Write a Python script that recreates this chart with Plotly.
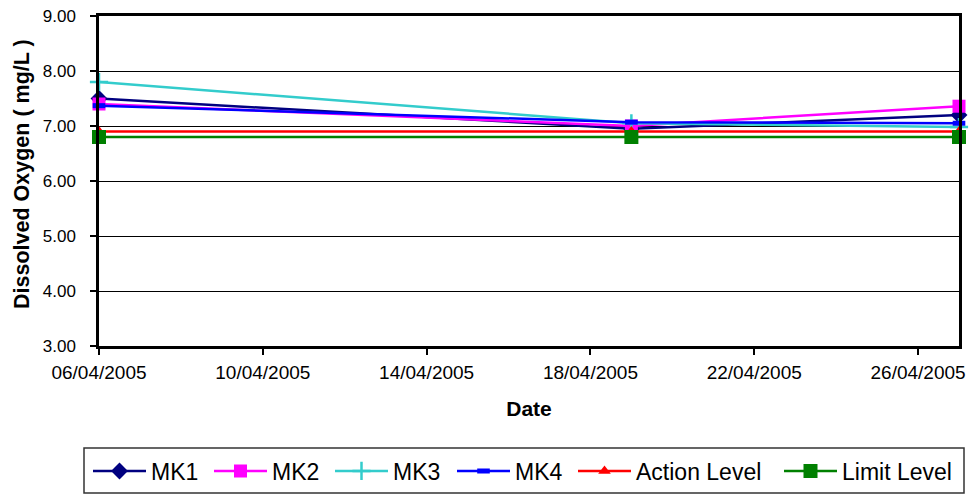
import plotly.graph_objects as go

dates = ["2005-04-06", "2005-04-19", "2005-04-27"]
mk1 = [7.50, 6.95, 7.20]
mk2 = [7.40, 7.00, 7.36]
mk3 = [7.80, 7.05, 6.98]
mk4 = [7.37, 7.07, 7.05]
action_level = [6.90, 6.90, 6.90]
limit_level = [6.80, 6.80, 6.80]

series = [
    ("MK1", mk1, "#000080", dict(symbol="diamond", size=13)),
    ("MK2", mk2, "#FF00FF", dict(symbol="square", size=13)),
    ("MK3", mk3, "#33CCCC", dict(symbol="cross-thin", size=13, line=dict(width=2.5, color="#33CCCC"))),
    ("MK4", mk4, "#0000FF", dict(symbol="line-ew", size=9, line=dict(width=5, color="#0000FF"))),
    ("Action Level", action_level, "#FF0000", dict(symbol="triangle-up", size=11)),
    ("Limit Level", limit_level, "#008000", dict(symbol="square", size=14)),
]

# Figure and plot-area geometry in pixels
L, R, T, B = 99, 14, 16, 149
W, H = 973, 495
PW, PH = W - L - R, H - T - B


def paper_x(v):
    return (v - L) / PW


def paper_y(v):
    return (H - B - v) / PH


# left edge of each legend entry and the row's centre line (container pixels)
legend_left = [88, 209, 330, 452, 573, 779]
legend_mid = 471

fig = go.Figure()
layout_legends = {}
for i, (name, vals, color, marker) in enumerate(series):
    key = "legend" if i == 0 else f"legend{i + 1}"
    fig.add_trace(go.Scatter(
        x=dates, y=vals, name=name, mode="lines+markers",
        line=dict(color=color, width=2.5),
        marker=dict(color=color, **marker),
        cliponaxis=False,
        legend=key,
    ))
    layout_legends[key] = dict(
        xref="container", yref="container",
        x=legend_left[i] / W, xanchor="left",
        y=1 - legend_mid / H, yanchor="middle",
        bgcolor="rgba(0,0,0,0)", borderwidth=0,
        font=dict(size=23), itemwidth=53,
    )

fig.update_layout(
    width=W, height=H,
    margin=dict(l=L, r=R, t=T, b=B, autoexpand=False),
    paper_bgcolor="white", plot_bgcolor="white",
    font=dict(family="Liberation Sans, Arial, sans-serif", size=18, color="black"),
    showlegend=True,
    **layout_legends,
)

# frame around the legend row
fig.add_shape(
    type="rect", xref="paper", yref="paper",
    x0=paper_x(84), x1=paper_x(964), y0=paper_y(493), y1=paper_y(448),
    line=dict(color="#333333", width=1.5), fillcolor="rgba(0,0,0,0)",
)

# vertical y-axis title
fig.add_annotation(
    text="<b>Dissolved Oxygen ( mg/L )</b>", textangle=-90,
    xref="paper", yref="paper", x=paper_x(22), y=paper_y(174),
    xanchor="center", yanchor="middle", showarrow=False,
    font=dict(size=21.5),
)

fig.update_xaxes(
    type="date", range=["2005-04-06", "2005-04-27"], automargin=False,
    tickvals=["2005-04-06", "2005-04-10", "2005-04-14", "2005-04-18", "2005-04-22", "2005-04-26"],
    tickformat="%d/%m/%Y", ticks="outside", ticklen=6, tickcolor="black", tickwidth=1.5,
    tickfont=dict(size=19), ticklabelstandoff=1,
    showgrid=False, showline=True, linecolor="black", linewidth=2.5, mirror=True,
    title=dict(text="<b>Date</b>", font=dict(size=21), standoff=20),
)
fig.update_yaxes(
    range=[3, 9], dtick=1, tickformat=".2f", ticks="outside", ticklen=6, tickcolor="black", tickwidth=1.5,
    tickfont=dict(size=17), ticklabelstandoff=11, automargin=False,
    showgrid=True, gridcolor="black", gridwidth=1,
    showline=True, linecolor="black", linewidth=2.5, mirror=True, zeroline=False,
)

fig.write_html("out.html")
